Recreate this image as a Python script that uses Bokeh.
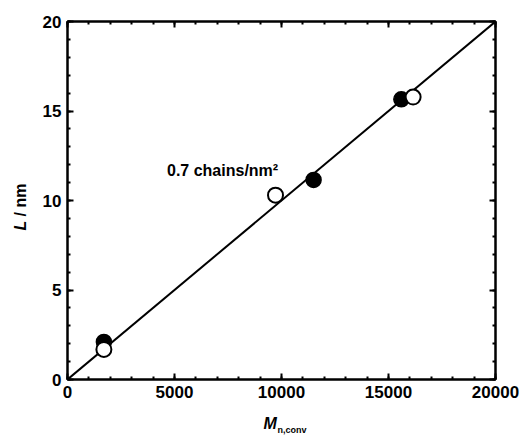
import math
from bokeh.plotting import figure
from bokeh.layouts import row, column
from bokeh.models import LinearAxis, SingleIntervalTicker, Label, Range1d
from bokeh.embed import file_html
from bokeh.resources import INLINE

# data
filled_x = [1700, 11500, 15600]
filled_y = [2.1, 11.15, 15.65]
open_x = [1700, 9720, 16150]
open_y = [1.68, 10.3, 15.78]
fit_x = [0, 20000]
fit_y = [0, 20]
x_range = (0, 20000)
y_range = (0, 20)
x_ticks = [0, 5000, 10000, 15000, 20000]
y_ticks = [0, 5, 10, 15, 20]

FONT = "Liberation Sans"
W, H = 520, 436
LEFT_W = 32      # strip holding the y title
BOT_H = 26       # strip holding the x title
MAIN_W, MAIN_H = W - LEFT_W, H - BOT_H
FRAME_LEFT = 67

p = figure(width=MAIN_W, height=MAIN_H, output_backend="svg", toolbar_location=None,
           x_range=Range1d(*x_range), y_range=Range1d(*y_range),
           min_border_left=FRAME_LEFT - LEFT_W, min_border_right=25, min_border_top=21,
           min_border_bottom=MAIN_H - 379,
           x_axis_location=None, y_axis_location=None)
p.grid.visible = False
p.outline_line_color = "black"
p.outline_line_width = 2
p.background_fill_color = "white"
p.border_fill_color = "white"


def make_axis(ax, show_labels, ticks):
    ax.axis_line_color = "black"
    ax.axis_line_width = 2
    ax.major_tick_in = 6
    ax.major_tick_out = 0
    ax.minor_tick_in = 3
    ax.minor_tick_out = 0
    ax.major_tick_line_width = 2
    ax.minor_tick_line_width = 2
    ax.major_tick_line_color = "black"
    ax.minor_tick_line_color = "black"
    if show_labels:
        ax.major_label_text_font = FONT
        ax.major_label_text_font_size = "17px"
        ax.major_label_text_font_style = "bold"
        ax.major_label_text_color = "black"
        ax.major_label_standoff = 6
    else:
        ax.major_label_overrides = {t: "" for t in ticks}
        ax.major_label_standoff = 0
    return ax

xb = make_axis(LinearAxis(ticker=SingleIntervalTicker(interval=5000, num_minor_ticks=5)), True, x_ticks)
xt = make_axis(LinearAxis(ticker=SingleIntervalTicker(interval=5000, num_minor_ticks=5)), False, x_ticks)
yl = make_axis(LinearAxis(ticker=SingleIntervalTicker(interval=5, num_minor_ticks=5)), True, y_ticks)
yr = make_axis(LinearAxis(ticker=SingleIntervalTicker(interval=5, num_minor_ticks=5)), False, y_ticks)
p.add_layout(xb, "below")
p.add_layout(xt, "above")
p.add_layout(yl, "left")
p.add_layout(yr, "right")

p.line(fit_x, fit_y, line_color="black", line_width=2)
p.scatter(filled_x, filled_y, marker="circle", size=15, fill_color="black",
          line_color="black", line_width=1.5)
p.scatter(open_x, open_y, marker="circle", size=15, fill_color="white",
          line_color="black", line_width=2)

p.add_layout(Label(x=4650, y=11.7, text="0.7 chains/nm²", text_font=FONT,
                   text_font_size="16px", text_font_style="bold", text_color="black",
                   text_baseline="alphabetic", text_align="left"))


def strip(width, height):
    s = figure(width=width, height=height, output_backend="svg", toolbar_location=None,
               x_range=Range1d(0, 1), y_range=Range1d(0, 1),
               min_border_left=0, min_border_right=0, min_border_top=0, min_border_bottom=0,
               x_axis_location=None, y_axis_location=None)
    s.grid.visible = False
    s.outline_line_color = None
    s.background_fill_color = "white"
    s.border_fill_color = "white"
    return s

# y title: italic L followed by upright "/ nm", reading upwards
p_left = strip(LEFT_W, H)
p_left.add_layout(Label(x=20, y=H - 230, x_units="screen", y_units="screen", text="L",
                        angle=math.pi / 2, text_font=FONT, text_font_size="16px",
                        text_font_style="bold italic", text_baseline="middle",
                        text_align="left", text_color="black"))
p_left.add_layout(Label(x=20, y=H - 230 + 14, x_units="screen", y_units="screen", text="/ nm",
                        angle=math.pi / 2, text_font=FONT, text_font_size="16px",
                        text_font_style="bold", text_baseline="middle",
                        text_align="left", text_color="black"))

# x title: italic M with subscript n,conv (the strip's frame is aligned with the main frame)
p_bot = strip(MAIN_W, BOT_H)
p_bot.add_layout(Label(x=263 - FRAME_LEFT, y=13, x_units="screen", y_units="screen", text="M",
                       text_font=FONT, text_font_size="16px", text_font_style="bold italic",
                       text_baseline="alphabetic", text_align="left", text_color="black"))
p_bot.add_layout(Label(x=277 - FRAME_LEFT, y=7, x_units="screen", y_units="screen",
                       text="n,conv", text_font=FONT, text_font_size="9px",
                       text_font_style="bold", text_baseline="alphabetic",
                       text_align="left", text_color="black"))

layout = row(p_left, column(p, p_bot, spacing=0), spacing=0)
open("out.html", "w").write(file_html(layout, INLINE))
